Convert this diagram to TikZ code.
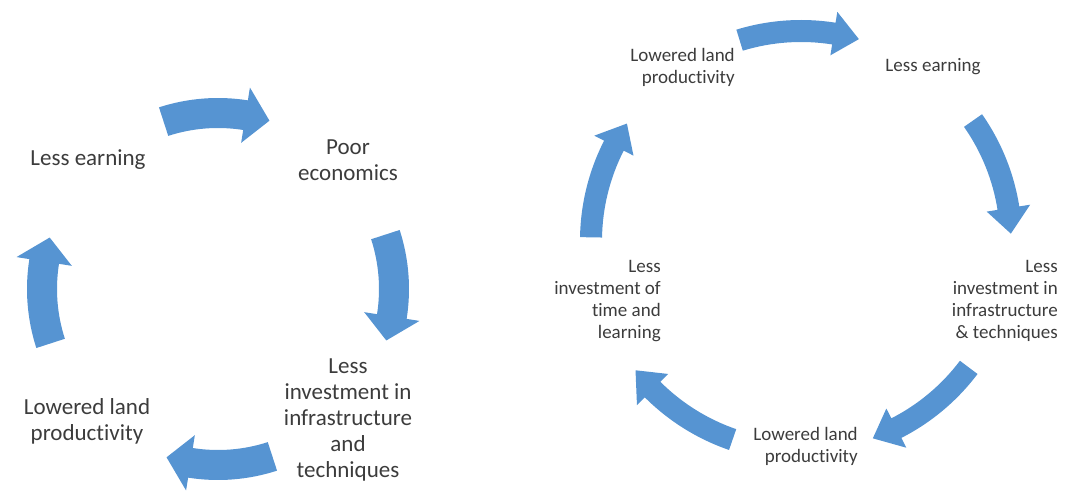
\documentclass[tikz,border=0pt]{standalone}
\usepackage{fontspec}
\setmainfont{Carlito}[Ligatures=NoCommon]
\usepackage{xcolor}
\usepackage{tikz}

\definecolor{arrowblue}{RGB}{86,148,210}
\definecolor{labelgray}{RGB}{60,60,60}

% curved block arrow on a circle: centre, radius, tail angle, tip angle,
% half shaft width, half head width, head length (degrees)
\newcommand{\cyclearrow}[7]{%
  \pgfmathsetmacro\headang{#4+#7}%
  \fill[arrowblue, shift={(#1)}]
    (#3:#2+#5) arc[start angle=#3, end angle=\headang, radius=#2+#5]
    -- (\headang:#2+#6) -- (#4:#2) -- (\headang:#2-#6)
    -- (\headang:#2-#5) arc[start angle=\headang, end angle=#3, radius=#2-#5]
    -- cycle;}

\begin{document}
\begin{tikzpicture}[x=0.75pt, y=0.75pt,
    bigtext/.style={text=labelgray, inner sep=0pt, align=center, font=\fontsize{17.25}{19.5}\selectfont},
    smalltext/.style={text=labelgray, inner sep=0pt, align=right, font=\fontsize{14.25}{16.5}\selectfont}]
        \useasboundingbox (0,0) rectangle (1078,497);

        % Centres of the two cycles
        \coordinate (cl) at (218,208);   % Left cycle
        \coordinate (cr) at (801,256);   % Right cycle

        % Left cycle: four steps
        \node[bigtext] (earnL) at (88,337) {Less earning};
        \node[bigtext] (econL) at (348,337) {Poor\\economics};
        \node[bigtext] (investL) at (348,77) {Less\\investment in\\infrastructure\\and\\techniques};
        \node[bigtext] (landL) at (87,76) {Lowered land\\productivity};

        % Arrows of the left cycle, clockwise
        \cyclearrow{cl}{176}{108}{73}{15}{28}{8}    % Less earning -> Poor economics
        \cyclearrow{cl}{176}{18}{-17}{15}{28}{8}    % Poor economics -> Less investment
        \cyclearrow{cl}{176}{-72}{-107}{15}{28}{8}  % Less investment -> Lowered land
        \cyclearrow{cl}{176}{198}{163}{15}{28}{8}   % Lowered land -> Less earning

        % Right cycle: five steps
        \node[smalltext, anchor=east] (landR) at (735,430) {Lowered land\\productivity};
        \node[smalltext, anchor=center] (earnR) at (933,430) {Less earning};
        \node[smalltext, anchor=east] (investR) at (1058,196) {Less\\investment in\\infrastructure\\\& techniques};
        \node[smalltext, anchor=east] (landB) at (858,51) {Lowered land\\productivity};
        \node[smalltext, anchor=east] (timeR) at (661,196) {Less\\investment of\\time and\\learning};

        % Arrows of the right cycle, clockwise
        \cyclearrow{cr}{210}{107}{74}{11}{22}{7}      % Lowered land -> Less earning
        \cyclearrow{cr}{210}{35}{2}{11}{22}{7}        % Less earning -> Less investment
        \cyclearrow{cr}{210}{-37}{-70}{11}{22}{7}     % Less investment -> Lowered land
        \cyclearrow{cr}{210}{-109}{-142}{11}{22}{7}   % Lowered land -> Less investment of time
        \cyclearrow{cr}{210}{179}{146}{11}{22}{7}     % Less investment of time -> Lowered land
    \end{tikzpicture}
\end{document}
